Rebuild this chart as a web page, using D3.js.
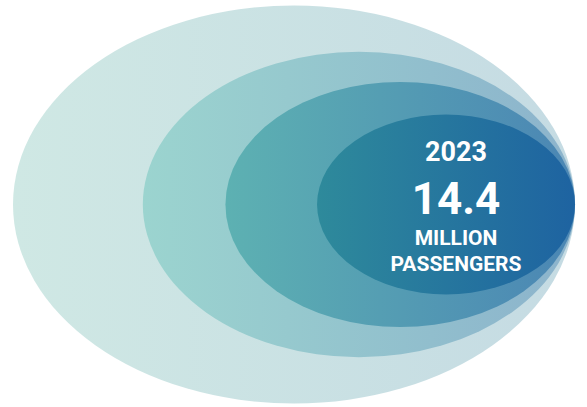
<!DOCTYPE html>
<html>
<head>
<meta charset="utf-8">
<script src="https://cdn.jsdelivr.net/npm/d3@7"></script>
<style>
  html, body { margin: 0; padding: 0; background: #ffffff; }
  svg { display: block; }
</style>
</head>
<body>
<svg id="chart" width="587" height="407"></svg>
<script>
// Nested rings, outermost first; each ring is tangent on the right edge.
const rings = ["ring1", "ring2", "ring3", "ring4"];
// Relative size of each ring (share of the outer ring's width / height)
const ringWidth  = [1.000, 0.769, 0.622, 0.459];
const ringHeight = [1.000, 0.767, 0.616, 0.452];
// Gradient colours, left stop and right stop
const colorLeft  = ["#cfe8e4", "#9bd4cf", "#5db1b2", "#2e8a9b"];
const colorRight = ["#c5dbe3", "#8cb3cc", "#4b86b4", "#1e63a1"];
// Headline labels
const labelYear = "2023";
const labelValue = "14.4";
const labelUnit = ["MILLION", "PASSENGERS"];

const svg = d3.select("#chart");

// Scales map the unit shares onto pixel extents
const xExtent = d3.scaleLinear().domain([0, 1]).range([0, 562]);
const yExtent = d3.scaleLinear().domain([0, 1]).range([0, 398]);
const rightEdge = 575, midY = 204.5;

const defs = svg.append("defs");
rings.forEach((id, i) => {
  const g = defs.append("linearGradient")
    .attr("id", "grad-" + id)
    .attr("x1", "0%").attr("x2", "100%").attr("y1", "0%").attr("y2", "0%");
  g.append("stop").attr("offset", "0%").attr("stop-color", colorLeft[i]);
  g.append("stop").attr("offset", "100%").attr("stop-color", colorRight[i]);
});

svg.selectAll("ellipse.ring")
  .data(rings)
  .join("ellipse")
  .attr("class", "ring")
  .attr("rx", (d, i) => xExtent(ringWidth[i]) / 2)
  .attr("ry", (d, i) => yExtent(ringHeight[i]) / 2)
  .attr("cx", (d, i) => rightEdge - xExtent(ringWidth[i]) / 2)
  .attr("cy", midY)
  .attr("fill", d => `url(#grad-${d})`);

const tx = 456;
const text = svg.append("g")
  .attr("fill", "#ffffff")
  .attr("font-family", "Roboto, 'Noto Sans', sans-serif")
  .attr("font-weight", 700)
  .attr("text-anchor", "middle");

text.append("text").attr("x", tx).attr("y", 161).attr("font-size", 27).text(labelYear);
text.append("text").attr("x", tx).attr("y", 214).attr("font-size", 44).text(labelValue);
text.selectAll("text.unit")
  .data(labelUnit)
  .join("text")
  .attr("class", "unit")
  .attr("x", tx)
  .attr("y", (d, i) => 245 + i * 26)
  .attr("font-size", 21)
  .text(d => d);
</script>
</body>
</html>
